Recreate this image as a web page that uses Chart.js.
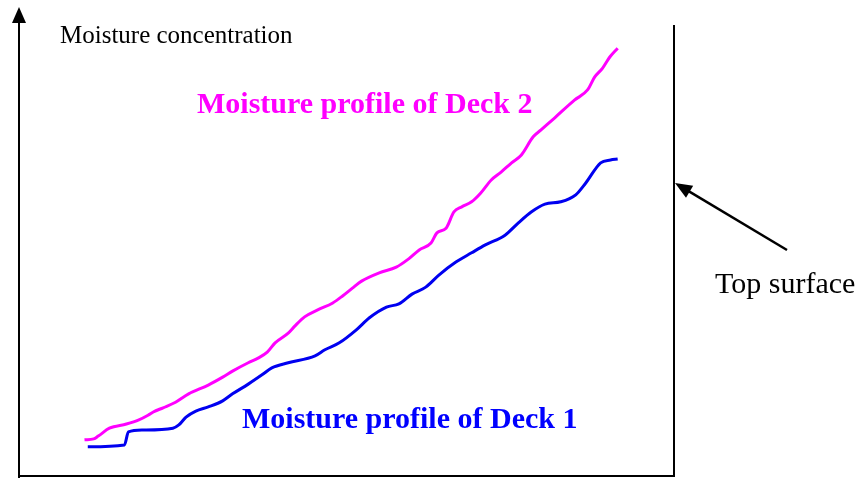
<!DOCTYPE html>
<html>
<head>
<meta charset="utf-8">
<script src="https://cdn.jsdelivr.net/npm/chart.js@4.4.0/dist/chart.umd.min.js"></script>
<style>
  body { margin: 0; background: #fff; }
  #wrap { width: 861px; height: 478px; }
</style>
</head>
<body>
<div id="wrap"><canvas id="myChart" width="861" height="478"></canvas></div>
<script>
// depth from bottom (0-100) and moisture (arbitrary units)
const deck2Depth = [10.0, 11.4, 12.1, 13.8, 16.4, 18.3, 19.7, 20.5, 22.0, 23.9, 25.9, 28.9, 31.1, 32.6, 35.0, 36.5, 37.9, 39.1, 41.1, 42.1, 43.6, 45.6, 47.9, 49.4, 50.9, 52.3, 55.0, 57.6, 59.5, 61.1, 62.9, 63.8, 65.2, 66.4, 67.6, 69.1, 70.5, 72.1, 73.6, 75.2, 76.7, 78.5, 79.7, 81.8, 84.8, 86.8, 87.9, 89.1, 90.2, 91.4];
const deck2Moist = [7.8, 8.0, 8.6, 10.3, 11.2, 12.1, 13.1, 13.8, 14.7, 15.9, 17.7, 19.6, 21.3, 22.6, 24.4, 25.4, 26.7, 28.7, 30.8, 32.3, 34.3, 35.8, 37.3, 38.8, 40.5, 42.0, 43.8, 45.0, 46.8, 48.7, 50.2, 52.4, 53.4, 56.9, 58.0, 59.1, 61.0, 63.8, 65.5, 67.5, 69.2, 73.1, 74.6, 77.2, 81.0, 83.2, 86.0, 87.9, 90.3, 92.2];

const deck1Depth = [10.5, 16.1, 16.7, 18.9, 23.5, 24.4, 25.5, 27.0, 28.9, 31.1, 32.6, 35.0, 37.1, 38.6, 41.1, 45.2, 46.7, 48.9, 51.5, 53.5, 56.1, 58.0, 60.0, 62.1, 64.1, 66.7, 69.1, 71.2, 74.2, 76.2, 78.2, 80.3, 82.7, 85.0, 86.5, 88.8, 90.3, 91.4];
const deck1Moist = [6.3, 6.7, 9.5, 9.9, 10.3, 11.0, 12.7, 14.0, 14.9, 16.2, 17.7, 19.8, 21.8, 23.3, 24.4, 25.9, 27.2, 28.7, 31.5, 34.1, 36.4, 37.1, 39.2, 40.7, 43.3, 46.1, 48.1, 49.8, 51.9, 54.5, 56.9, 58.6, 59.1, 60.6, 63.1, 67.5, 68.1, 68.3];

const yTitle = 'Moisture concentration';
const deck2Label = 'Moisture profile of Deck 2';
const deck1Label = 'Moisture profile of Deck 1';
const surfaceLabel = 'Top surface';

function pairs(xs, ys) {
  return xs.map((x, i) => ({ x: x, y: ys[i] }));
}

// arrows, right edge line and the free text labels
const decorations = {
  id: 'decorations',
  afterDraw(chart) {
    const ctx = chart.ctx;
    const a = chart.chartArea;
    ctx.save();
    ctx.fillStyle = '#000';
    ctx.strokeStyle = '#000';

    // y axis arrow head, axis runs a little past the bottom line
    ctx.beginPath();
    ctx.moveTo(a.left, a.top - 5);
    ctx.lineTo(a.left - 7, a.top + 11);
    ctx.lineTo(a.left + 7, a.top + 11);
    ctx.closePath();
    ctx.fill();
    ctx.lineWidth = 2;
    ctx.beginPath();
    ctx.moveTo(a.left, a.bottom);
    ctx.lineTo(a.left, a.bottom + 3);
    ctx.stroke();

    // right edge line (top surface)
    ctx.beginPath();
    ctx.moveTo(a.right, a.top + 13);
    ctx.lineTo(a.right, a.bottom);
    ctx.stroke();

    // pointer arrow to the top surface
    const tx = a.right + 1, ty = 183, fx = 787, fy = 250;
    const ang = Math.atan2(ty - fy, tx - fx);
    ctx.lineWidth = 2.5;
    ctx.beginPath();
    ctx.moveTo(fx, fy);
    ctx.lineTo(tx - 10 * Math.cos(ang), ty - 10 * Math.sin(ang));
    ctx.stroke();
    ctx.beginPath();
    ctx.moveTo(tx, ty);
    ctx.lineTo(tx - 17 * Math.cos(ang) + 7 * Math.sin(ang), ty - 17 * Math.sin(ang) - 7 * Math.cos(ang));
    ctx.lineTo(tx - 17 * Math.cos(ang) - 7 * Math.sin(ang), ty - 17 * Math.sin(ang) + 7 * Math.cos(ang));
    ctx.closePath();
    ctx.fill();

    ctx.textBaseline = 'alphabetic';
    ctx.textAlign = 'left';
    ctx.font = '25px "Liberation Serif", "Times New Roman", serif';
    ctx.fillText(yTitle, 60, 43);

    ctx.font = '30px "Liberation Serif", "Times New Roman", serif';
    ctx.fillText(surfaceLabel, 715, 293);

    ctx.font = 'bold 30px "Liberation Serif", "Times New Roman", serif';
    ctx.fillStyle = 'rgb(255, 0, 255)';
    ctx.fillText(deck2Label, 197, 113);
    ctx.fillStyle = 'rgb(0, 0, 255)';
    ctx.fillText(deck1Label, 242, 428);
    ctx.restore();
  }
};

const ctx = document.getElementById('myChart');
new Chart(ctx, {
  type: 'line',
  data: {
    datasets: [{
      label: deck2Label,
      data: pairs(deck2Depth, deck2Moist),
      borderColor: 'rgb(255, 0, 255)',
      borderWidth: 3,
      pointRadius: 0,
      cubicInterpolationMode: 'monotone',
      fill: false
    }, {
      label: deck1Label,
      data: pairs(deck1Depth, deck1Moist),
      borderColor: 'rgb(0, 0, 240)',
      borderWidth: 3,
      pointRadius: 0,
      cubicInterpolationMode: 'monotone',
      fill: false
    }]
  },
  options: {
    responsive: false,
    animation: false,
    devicePixelRatio: 1,
    layout: { padding: { left: 19, right: 187, top: 12, bottom: 2 } },
    plugins: { legend: { display: false }, tooltip: { enabled: false } },
    scales: {
      x: {
        type: 'linear',
        min: 0,
        max: 100,
        grid: { display: false, drawTicks: false },
        ticks: { display: false },
        border: { display: true, color: '#000', width: 2 },
        afterFit: s => { s.height = 0; }
      },
      y: {
        min: 0,
        max: 100,
        grid: { display: false, drawTicks: false },
        ticks: { display: false },
        border: { display: true, color: '#000', width: 2 },
        afterFit: s => { s.width = 0; }
      }
    }
  },
  plugins: [decorations]
});
</script>
</body>
</html>
